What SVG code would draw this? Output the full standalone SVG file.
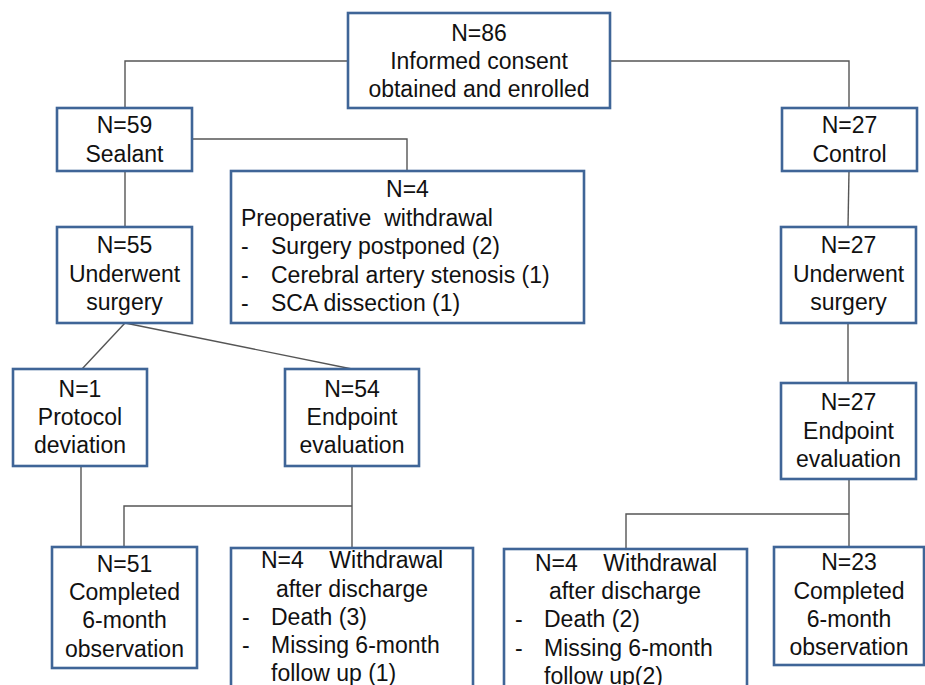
<svg xmlns="http://www.w3.org/2000/svg" width="925" height="685" viewBox="0 0 925 685">
<style>
.box{fill:#fff;stroke:#3f6597;stroke-width:2.6}
.ln{fill:none;stroke:#555;stroke-width:1.4}
text{font-family:"Liberation Sans",Arial,sans-serif;font-size:23px;fill:#111}
.c{text-anchor:middle}
</style>
<rect width="925" height="685" fill="#fff"/>
<g id="connectors">
<polyline class="ln" points="348,61 125,61 125,108"/>
<polyline class="ln" points="610,61 849,61 849,108"/>
<polyline class="ln" points="192,139 407,139 407,171"/>
<line class="ln" x1="125" y1="171" x2="125" y2="227"/>
<line class="ln" x1="849" y1="171" x2="848" y2="227"/>
<line class="ln" x1="125" y1="323" x2="82" y2="369"/>
<line class="ln" x1="125" y1="323" x2="352" y2="369"/>
<line class="ln" x1="848" y1="323" x2="848" y2="383"/>
<line class="ln" x1="81" y1="466" x2="81" y2="548"/>
<line class="ln" x1="352" y1="466" x2="352" y2="548"/>
<polyline class="ln" points="352,506 124,506 124,548"/>
<line class="ln" x1="849" y1="479" x2="849" y2="547"/>
<polyline class="ln" points="849,514 626,514 626,549"/>
</g>
<g id="n86">
<rect class="box" x="348" y="13" width="262" height="95"/>
<text class="c" x="479" y="41">N=86</text>
<text class="c" x="479" y="69">Informed consent</text>
<text class="c" x="479" y="97">obtained and enrolled</text>
</g>
<g id="n59">
<rect class="box" x="57" y="108" width="135" height="63"/>
<text class="c" x="124.5" y="133">N=59</text>
<text class="c" x="124.5" y="162">Sealant</text>
</g>
<g id="n27c">
<rect class="box" x="782" y="108" width="135" height="63"/>
<text class="c" x="849.5" y="133">N=27</text>
<text class="c" x="849.5" y="162">Control</text>
</g>
<g id="preop">
<rect class="box" x="231" y="171" width="353" height="152"/>
<text class="c" x="407.5" y="197">N=4</text>
<text x="241" y="226" xml:space="preserve">Preoperative  withdrawal</text>
<text x="241" y="254">-</text><text x="271" y="254">Surgery postponed (2)</text>
<text x="241" y="283">-</text><text x="271" y="283">Cerebral artery stenosis (1)</text>
<text x="241" y="311">-</text><text x="271" y="311">SCA dissection (1)</text>
</g>
<g id="n55">
<rect class="box" x="57" y="227" width="135" height="96"/>
<text class="c" x="124.5" y="253">N=55</text>
<text class="c" x="124.5" y="282">Underwent</text>
<text class="c" x="124.5" y="310">surgery</text>
</g>
<g id="n27u">
<rect class="box" x="781" y="227" width="135" height="96"/>
<text class="c" x="848.5" y="253">N=27</text>
<text class="c" x="848.5" y="282">Underwent</text>
<text class="c" x="848.5" y="310">surgery</text>
</g>
<g id="n1">
<rect class="box" x="13" y="369" width="134" height="97"/>
<text class="c" x="80" y="397">N=1</text>
<text class="c" x="80" y="425">Protocol</text>
<text class="c" x="80" y="453">deviation</text>
</g>
<g id="n54">
<rect class="box" x="285" y="369" width="134" height="97"/>
<text class="c" x="352" y="397">N=54</text>
<text class="c" x="352" y="425">Endpoint</text>
<text class="c" x="352" y="453">evaluation</text>
</g>
<g id="n27e">
<rect class="box" x="781" y="383" width="135" height="96"/>
<text class="c" x="848.5" y="410">N=27</text>
<text class="c" x="848.5" y="439">Endpoint</text>
<text class="c" x="848.5" y="467">evaluation</text>
</g>
<g id="n51">
<rect class="box" x="52" y="547" width="145" height="121"/>
<text class="c" x="124.5" y="572">N=51</text>
<text class="c" x="124.5" y="600">Completed</text>
<text class="c" x="124.5" y="628">6-month</text>
<text class="c" x="124.5" y="657">observation</text>
</g>
<g id="wd1">
<rect class="box" x="231" y="548" width="242" height="150"/>
<text class="c" x="352" y="568" xml:space="preserve">N=4    Withdrawal</text>
<text class="c" x="352" y="597">after discharge</text>
<text x="242" y="625">-</text><text x="271" y="625">Death (3)</text>
<text x="242" y="653">-</text><text x="271" y="653">Missing 6-month</text>
<text x="271" y="681">follow up (1)</text>
</g>
<g id="wd2">
<rect class="box" x="504" y="549" width="243" height="150"/>
<text class="c" x="626" y="571" xml:space="preserve">N=4    Withdrawal</text>
<text class="c" x="625" y="599">after discharge</text>
<text x="515" y="627">-</text><text x="544" y="627">Death (2)</text>
<text x="515" y="656">-</text><text x="544" y="656">Missing 6-month</text>
<text x="544" y="684">follow up(2)</text>
</g>
<g id="n23">
<rect class="box" x="774" y="547" width="150" height="118"/>
<text class="c" x="849" y="570">N=23</text>
<text class="c" x="849" y="599">Completed</text>
<text class="c" x="849" y="627">6-month</text>
<text class="c" x="849" y="655">observation</text>
</g>
</svg>
